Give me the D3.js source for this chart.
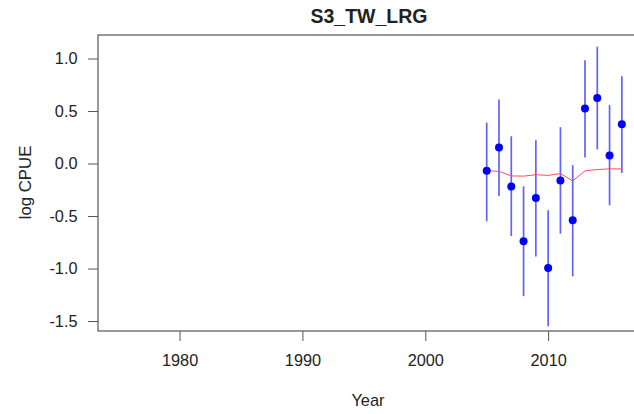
<!DOCTYPE html>
<html><head><meta charset="utf-8">
<script src="https://cdn.jsdelivr.net/npm/d3@7"></script>
<style>body{margin:0;background:#fff}svg{display:block}text{font-family:"Liberation Sans",Arial,sans-serif;fill:#222}</style>
</head><body>
<svg id="c" width="634" height="414"></svg>
<script>
const years = [2005,2006,2007,2008,2009,2010,2011,2012,2013,2014,2015,2016];
const obs   = [-0.07,0.153,-0.22,-0.74,-0.328,-0.996,-0.162,-0.541,0.525,0.623,0.076,0.375];
const upper = [0.39,0.61,0.26,-0.217,0.222,-0.446,0.346,-0.016,0.983,1.113,0.556,0.83];
const lower = [-0.55,-0.31,-0.69,-1.263,-0.885,-1.55,-0.668,-1.075,0.057,0.134,-0.398,-0.09];
const fit   = [-0.068,-0.075,-0.118,-0.12,-0.107,-0.113,-0.096,-0.166,-0.07,-0.057,-0.051,-0.051];
const xTicks = [1980,1990,2000,2010];
const yTicks = [-1.5,-1.0,-0.5,0.0,0.5,1.0];

const svg = d3.select("#c");
const L=98, T=35, R=642, B=331;
const x = d3.scaleLinear().domain([1973.36,2017.64]).range([L,R]);
const y = d3.scaleLinear().domain([-1.595,1.224]).range([B,T]);

svg.append("rect").attr("x",L).attr("y",T).attr("width",R-L).attr("height",B-T)
  .attr("fill","none").attr("stroke","#555").attr("stroke-width",1.2);

const xa = svg.append("g").attr("transform",`translate(0,${B})`)
  .call(d3.axisBottom(x).tickValues(xTicks).tickFormat(d3.format("d")).tickSize(10).tickPadding(13));
xa.select(".domain").remove();
xa.selectAll("line").attr("stroke","#555");
xa.selectAll("text").style("font-size","16.3px").attr("fill","#222");

const ya = svg.append("g").attr("transform",`translate(${L},0)`)
  .call(d3.axisLeft(y).tickValues(yTicks).tickFormat(d => d.toFixed(1)).tickSize(10).tickPadding(10.5));
ya.select(".domain").remove();
ya.selectAll("line").attr("stroke","#555");
ya.selectAll("text").style("font-size","16.3px").attr("fill","#222");

svg.append("g").selectAll("line").data(years).join("line")
  .attr("x1",(d)=>x(d)).attr("x2",(d)=>x(d))
  .attr("y1",(d,i)=>y(upper[i])).attr("y2",(d,i)=>y(lower[i]))
  .attr("stroke","#3b3bff").attr("stroke-opacity",0.8).attr("stroke-width",1.7);

svg.append("path").datum(years)
  .attr("d",d3.line().x(d=>x(d)).y((d,i)=>y(fit[i])))
  .attr("fill","none").attr("stroke","#ff5050").attr("stroke-width",1);

svg.append("g").selectAll("circle").data(years).join("circle")
  .attr("cx",d=>x(d)).attr("cy",(d,i)=>y(obs[i])).attr("r",4).attr("fill","#0000ff");

svg.append("text").attr("x",369).attr("y",22.5).attr("text-anchor","middle")
  .style("font-size","19.5px").style("font-weight","bold").text("S3_TW_LRG");
svg.append("text").attr("x",368).attr("y",406).attr("text-anchor","middle")
  .style("font-size","16.4px").text("Year");
svg.append("text").attr("transform","translate(30.7,182.5) rotate(-90)").attr("text-anchor","middle")
  .style("font-size","16.8px").text("log CPUE");
</script>
</body></html>
